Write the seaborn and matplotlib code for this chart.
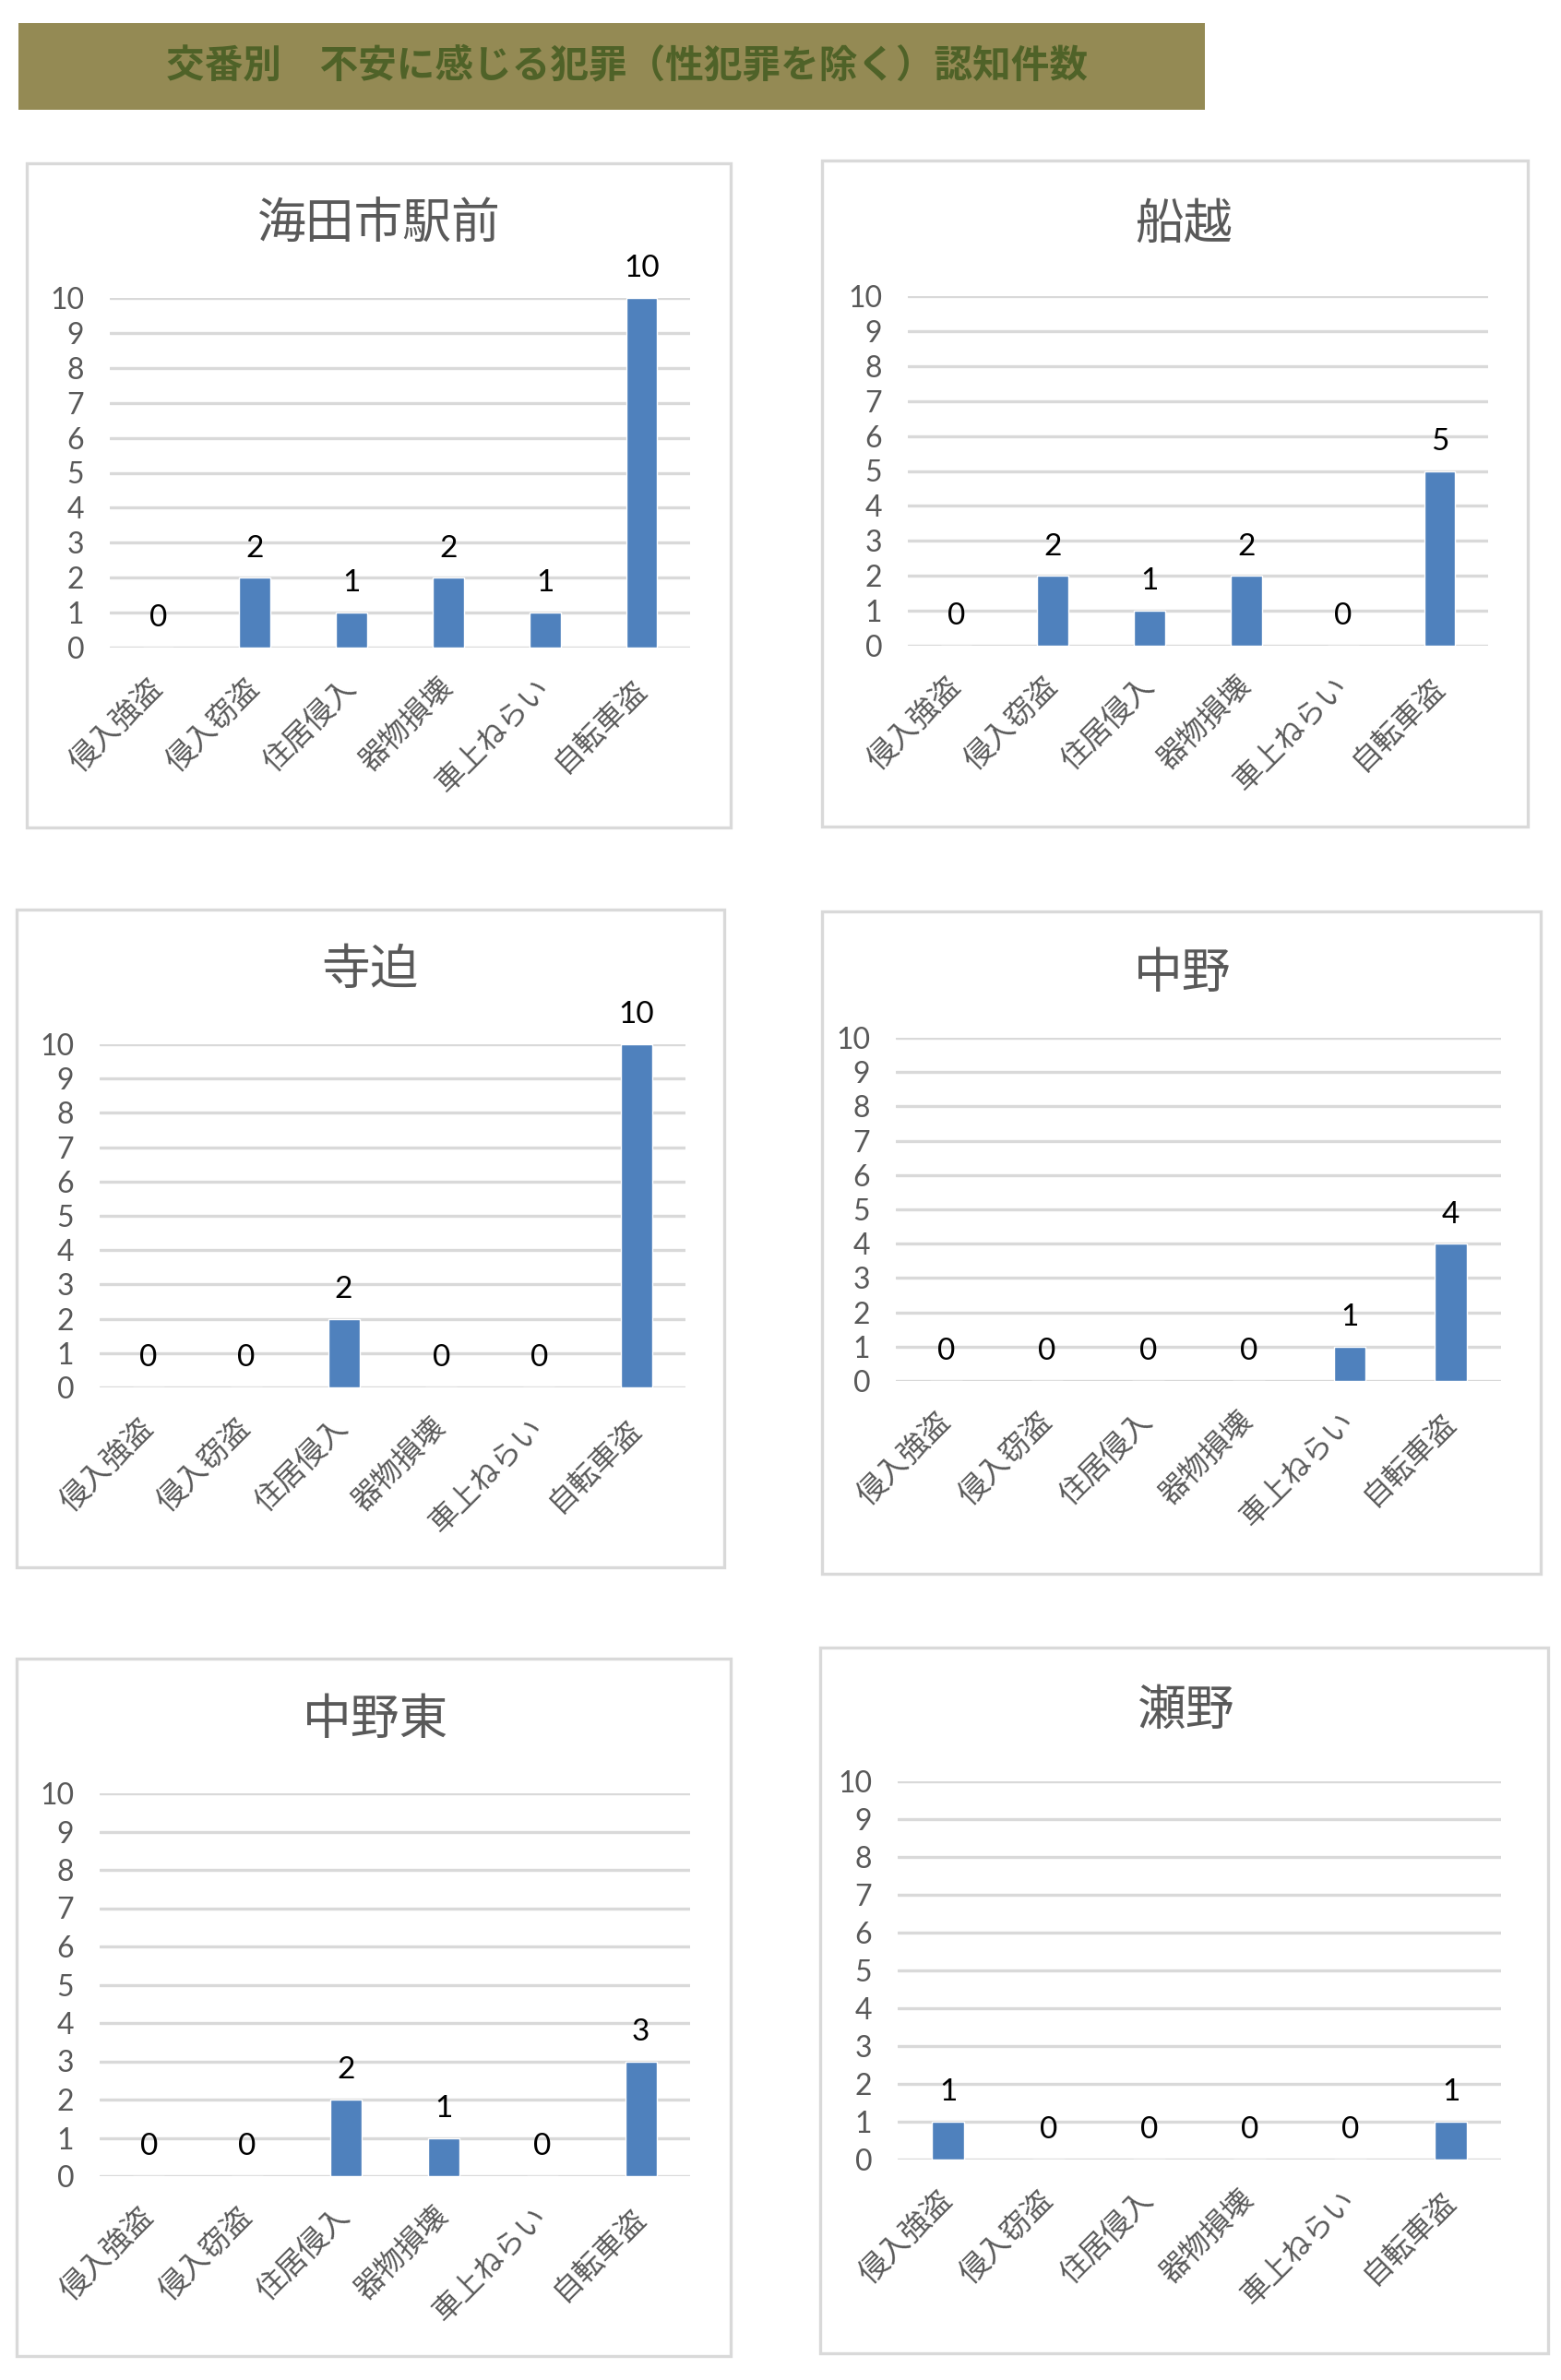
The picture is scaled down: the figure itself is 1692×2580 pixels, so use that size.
import numpy as np
import pandas as pd
import seaborn as sns
import matplotlib.pyplot as plt
from matplotlib.patches import Rectangle

# data
categories = ['侵入強盗', '侵入窃盗', '住居侵入', '器物損壊', '車上ねらい', '自転車盗']
stations = ['海田市駅前', '船越', '寺迫', '中野', '中野東', '瀬野']
kaitaichi = [0, 2, 1, 2, 1, 10]
funakoshi = [0, 2, 1, 2, 0, 5]
terasako = [0, 0, 2, 0, 0, 10]
nakano = [0, 0, 0, 0, 1, 4]
nakano_higashi = [0, 0, 2, 1, 0, 3]
seno = [1, 0, 0, 0, 0, 1]
counts = [kaitaichi, funakoshi, terasako, nakano, nakano_higashi, seno]
y_ticks = list(range(0, 11))
main_title = '交番別　不安に感じる犯罪（性犯罪を除く）認知件数'

W, H = 1692, 2580
sns.set_theme(style='white')
plt.rcParams['font.family'] = ['Noto Sans CJK JP', 'DejaVu Sans']

fig = plt.figure(figsize=(W / 100, H / 100), dpi=100)


def fig_rect(x0, y0, x1, y1):
    # pixel box (top-left origin) -> figure fraction
    return [x0 / W, 1 - y1 / H, (x1 - x0) / W, (y1 - y0) / H]


# banner
fig.add_artist(Rectangle(fig_rect(20, 25, 1306, 119)[:2], 1286 / W, 94 / H,
                         transform=fig.transFigure, facecolor='#948A54',
                         edgecolor='none'))
fig.text(679 / W, 1 - 72 / H, main_title, ha='center', va='center',
         fontsize=30, fontweight='bold', color='#4F6228')

# panel layout: box, plot area, title centre (pixels)
boxes = [(29, 177, 792, 897), (891, 174, 1656, 896),
         (18, 986, 785, 1699), (891, 988, 1670, 1706),
         (18, 1798, 792, 2554), (889, 1786, 1678, 2551)]
plots = [(119, 323, 748, 702), (984, 321, 1613, 700),
         (108, 1132, 743, 1504), (971, 1125, 1627, 1497),
         (108, 1944, 748, 2359), (973, 1931, 1627, 2341)]
titles_xy = [(411, 243), (1283, 243), (401, 1052),
             (1282, 1055), (407, 1864), (1285, 1854)]

for name, vals, box, pl, txy in zip(stations, counts, boxes, plots, titles_xy):
    r = fig_rect(*box)
    fig.add_artist(Rectangle((r[0], r[1]), r[2], r[3], transform=fig.transFigure,
                             fill=False, edgecolor='#D9D9D9', linewidth=2.4))
    fig.text(txy[0] / W, 1 - txy[1] / H, name, ha='center', va='center',
             fontsize=38, color='#595959')

    ax = fig.add_axes(fig_rect(*pl))
    df = pd.DataFrame({'cat': categories, 'n': vals})
    sns.barplot(data=df, x='cat', y='n', color='#4F81BD', saturation=1,
                width=0.32, ax=ax, zorder=3)
    ax.bar_label(ax.containers[0], labels=[str(v) for v in vals], padding=12,
                 fontsize=24, color='black', family='Lato')
    ax.set_ylim(0, 10)
    ax.set_xlim(-0.5, 5.5)
    ax.set_yticks(y_ticks)
    ax.grid(axis='y', color='#D9D9D9', linewidth=2.4, zorder=0)
    ax.set_axisbelow(True)
    for s in ax.spines.values():
        s.set_visible(False)
    ax.set_xlabel('')
    ax.set_ylabel('')
    ax.tick_params(axis='y', length=0, pad=20, labelsize=23, labelcolor='#595959')
    ax.tick_params(axis='x', length=0, pad=28, labelsize=23, labelcolor='#595959')
    for t in ax.get_yticklabels():
        t.set_family('Lato')
    plt.setp(ax.get_xticklabels(), rotation=45, ha='right', va='center',
             rotation_mode='anchor')
    ax.patch.set_alpha(0)

fig.savefig('out.png', dpi=100)
